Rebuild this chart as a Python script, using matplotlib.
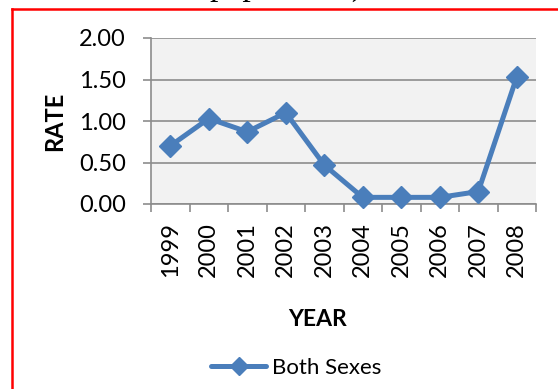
import matplotlib
matplotlib.use("Agg")
import matplotlib.pyplot as plt
from matplotlib.lines import Line2D

# rate per year, both sexes combined
years = ["1999", "2000", "2001", "2002", "2003", "2004", "2005", "2006", "2007", "2008"]
rate = [0.70, 1.03, 0.87, 1.10, 0.47, 0.08, 0.08, 0.08, 0.15, 1.53]
y_ticks = [0.0, 0.5, 1.0, 1.5, 2.0]
series_name = "Both Sexes"

W, H = 558, 389
BLUE = "#4A7EBB"
GRID = "#8C8C8C"

plt.rcParams["font.family"] = ["Lato", "DejaVu Sans"]

fig = plt.figure(figsize=(W / 100, H / 100), dpi=100)
fig.patch.set_facecolor("white")

# plot area
ax = fig.add_axes([151 / W, 1 - 204 / H, (536 - 151) / W, (204 - 38) / H])
ax.set_facecolor("#F2F2F2")

x = [i + 0.5 for i in range(len(years))]
ax.plot(x, rate, color=BLUE, lw=3.6, marker="D", ms=11, mfc=BLUE, mec=BLUE,
        solid_joinstyle="round", solid_capstyle="round", zorder=3, clip_on=False,
        label=series_name)

ax.set_xlim(0, len(years))
ax.set_ylim(0, 2.0)

# category labels at centers, tick marks at the boundaries
ax.set_xticks(x)
ax.set_xticklabels(years, rotation=90, fontsize=17)
ax.set_xticks(range(len(years) + 1), minor=True)
ax.tick_params(axis="x", which="major", length=0, pad=13)
ax.tick_params(axis="x", which="minor", length=6, width=1.2, color=GRID, direction="out")

ax.set_yticks(y_ticks)
ax.set_yticklabels([f"{v:.2f}" for v in y_ticks], fontsize=17)
ax.tick_params(axis="y", length=6, width=1.2, color=GRID, direction="out", pad=12)

ax.grid(axis="y", color=GRID, lw=1.2)
ax.set_axisbelow(True)
for side in ("top", "right"):
    ax.spines[side].set_visible(False)
for side in ("left", "bottom"):
    ax.spines[side].set_color(GRID)
    ax.spines[side].set_linewidth(1.2)

fig.text(55 / W, 1 - 121 / H, "RATE", rotation=90, ha="center", va="center",
         fontsize=17, fontweight="bold")
fig.text(318 / W, 1 - 320 / H, "YEAR", ha="center", va="center",
         fontsize=16.5, fontweight="bold")

handle = Line2D([], [], color=BLUE, lw=3.6, marker="D", ms=9, mfc=BLUE, mec=BLUE,
                solid_capstyle="round")
fig.legend([handle], [series_name], loc="center", bbox_to_anchor=(296 / W, 1 - 368 / H),
           frameon=False, fontsize=16, handlelength=2.5, handletextpad=0.25,
           borderpad=0, borderaxespad=0)

# title line above, mostly cut off by the frame edge
fig.text(209 / W, 1 + 5 / H, "population)", family=["Liberation Serif"],
         fontsize=24, ha="left", va="baseline")

# red outer frame (only top and left edges fall inside)
fig.add_artist(Line2D([12 / W, 1.0], [1 - 9 / H, 1 - 9 / H], color="red", lw=1.8,
                      transform=fig.transFigure))
fig.add_artist(Line2D([12 / W, 12 / W], [0, 1 - 9 / H], color="red", lw=1.8,
                      transform=fig.transFigure))

fig.savefig("out.png", dpi=100)
